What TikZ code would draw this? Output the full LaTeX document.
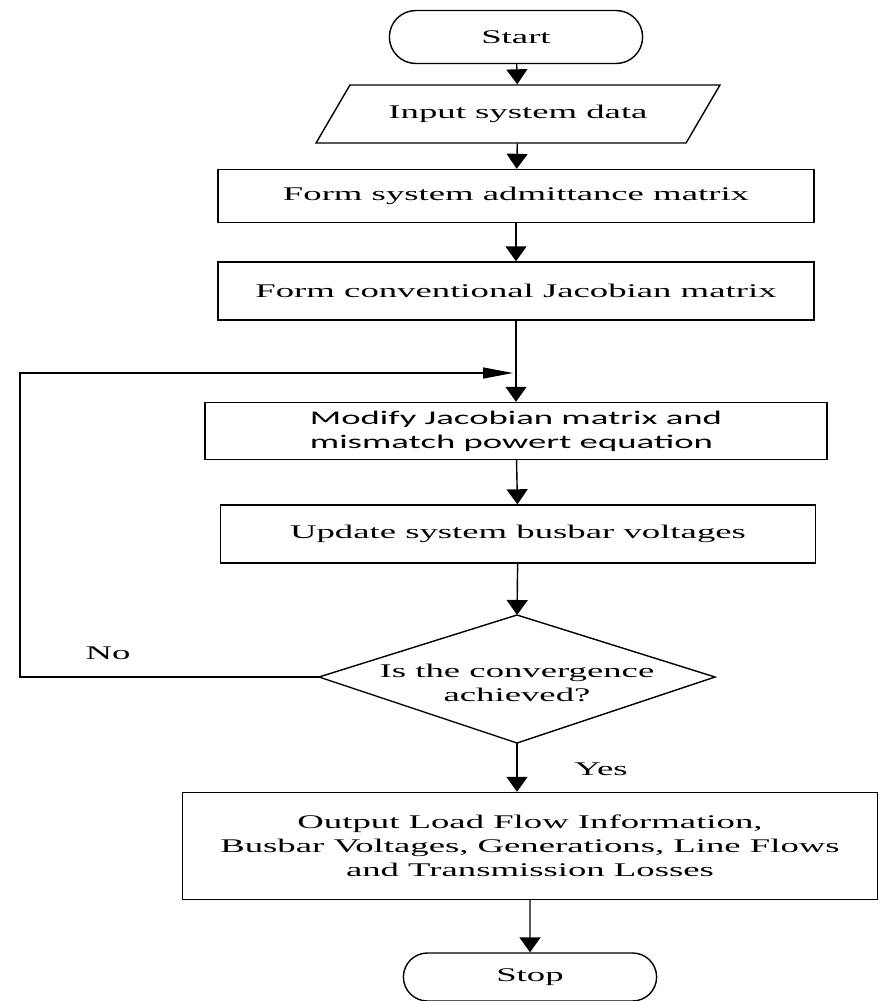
\documentclass[tikz,border=0pt]{standalone}
\usepackage{fontspec}
\setmainfont{Liberation Serif}[FakeStretch=1.9]
\newfontfamily\modfont{Carlito}[FakeStretch=1.9]
\usetikzlibrary{shapes.geometric,shapes.misc,arrows.meta}
\tikzset{
  procbox/.style={draw, thick, shape=rectangle, align=center, font=\fontsize{11}{13.6}\selectfont},
  termbox/.style={draw, thick, shape=rounded rectangle, font=\fontsize{11}{13.6}\selectfont},
  flow/.style={thick, -{Triangle[length=0.3cm,width=0.42cm]}},
  back/.style={thick, -{Triangle[length=0.6cm,width=0.22cm]}}
}
\begin{document}
\begin{tikzpicture}[x=0.02cm, y=-0.02cm]
            \useasboundingbox (0,0) rectangle (885,1001);
            \node[termbox, minimum width=5.3cm, minimum height=1.06cm] (ST) at (516,37) {Start};
            \node[procbox, shape=trapezium, trapezium left angle=47, trapezium right angle=133, trapezium stretches=true, minimum width=8.1cm, minimum height=1.16cm] (IN) at (518,114) {Input system data};
            \node[procbox, minimum width=11.92cm, minimum height=1.06cm] (AD) at (516,196) {Form system admittance matrix};
            \node[procbox, minimum width=11.92cm, minimum height=1.16cm] (JA) at (516,291) {Form conventional Jacobian matrix};
            \node[procbox, minimum width=12.44cm, minimum height=1.14cm, align=left, font=\modfont\fontsize{11}{13.6}\selectfont] (MO) at (516,431) {Modify Jacobian matrix and\\mismatch powert equation};
            \node[procbox, minimum width=11.9cm, minimum height=1.16cm] (UP) at (518,534) {Update system busbar voltages};

            % decision
            \node[align=center, font=\fontsize{11}{13.6}\selectfont] (CV) at (517,683) {Is the convergence\\achieved?};
            \coordinate (CT) at (517,615);
            \coordinate (CB) at (517,743);
            \coordinate (CL) at (319,677);
            \coordinate (CR) at (715,677);
            \draw[thick] (CT) -- (CR) -- (CB) -- (CL) -- cycle;

            \node[procbox, minimum width=13.9cm, minimum height=2.14cm] (OU) at (530,846) {Output Load Flow Information,\\Busbar Voltages, Generations, Line Flows\\and Transmission Losses};
            \node[termbox, minimum width=5.3cm, minimum height=0.96cm] (SP) at (530,977) {Stop};

            \draw[flow] (ST) -- (IN);
            \draw[flow] (IN) -- (AD);
            \draw[flow] (AD) -- (JA);
            \draw[flow] (JA) -- (MO);
            \draw[flow] (MO) -- (UP);
            \draw[flow] (UP) -- (CT);
            \draw[flow] (CB) -- (OU.north -| CB);
            \draw[flow] (OU.south -| SP) -- (SP);

            \coordinate (LB) at (20,677);
            \coordinate (LT) at (20,373);
            \coordinate (LE) at (513,373);
            \draw[back] (CL) -- (LB) -- (LT) -- (LE);

            \node[font=\fontsize{11}{13.6}\selectfont] (NO) at (108,653) {No};
            \node[font=\fontsize{11}{13.6}\selectfont] (YE) at (601,769) {Yes};
        \end{tikzpicture}
\end{document}
